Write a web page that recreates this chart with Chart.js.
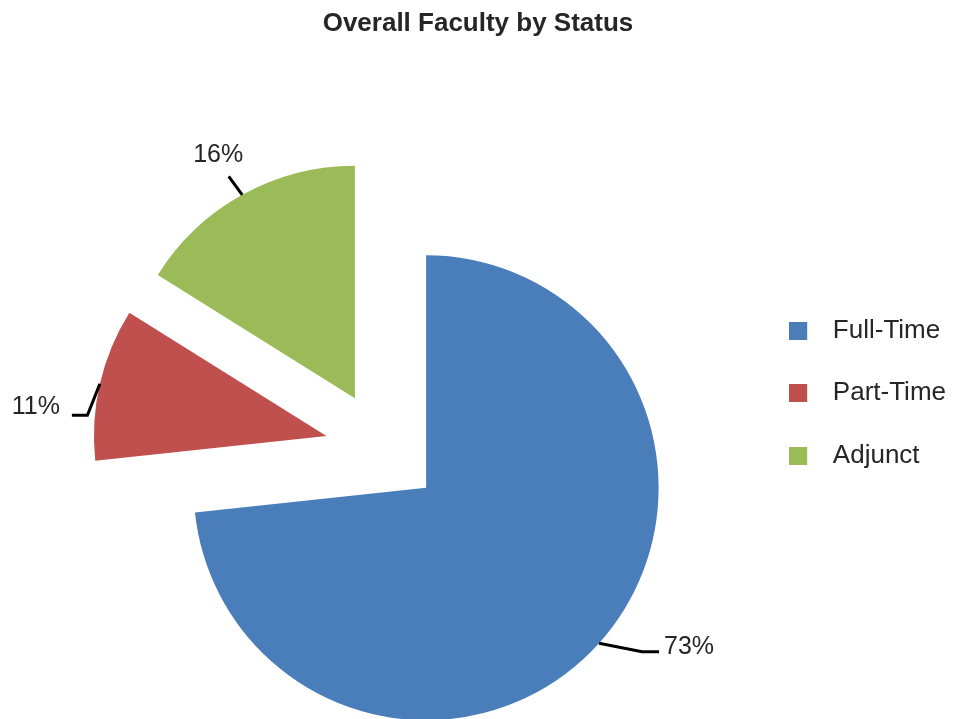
<!DOCTYPE html>
<html><head><meta charset="utf-8">
<script src="https://cdn.jsdelivr.net/npm/chart.js@4/dist/chart.umd.min.js"></script>
<style>html,body{margin:0;padding:0;background:#fff;}#wrap{width:956px;height:719px;}</style>
</head><body><div id="wrap"><canvas id="c" width="956" height="719"></canvas></div>
<script>
// ---- data ----
const categories = ['Full-Time', 'Part-Time', 'Adjunct'];
const shares = [73.3, 10.6, 16.1];
const sliceColors = ['#4A7EBB', '#C0504D', '#9BBB59'];
const chartTitle = 'Overall Faculty by Status';

// ---- style ----
const FONT = "'Liberation Sans', Arial, sans-serif";
const TEXT = '#262626';
const EXPLODE = 58;
const RADIUS = 232.5;
// leader line / label placement relative to each slice's outer mid point
const labelLayout = [
  {elbow: [43, 8.5], end: [60, 8.5], text: [65, 3.5], align: 'left'},
  {elbow: [-12.5, 31.5], end: [-28, 31.5], text: [-40, 23], align: 'right'},
  {elbow: [-13.5, -18.5], end: [-13.5, -18.5], text: [-24, -40], align: 'center'}
];

function squareStyle(color) {
  const c = document.createElement('canvas');
  c.width = 44; c.height = 18;
  const g = c.getContext('2d');
  g.fillStyle = color;
  g.fillRect(0, 0, 18, 18);
  return c;
}

const explodePlugin = {
  id: 'explode',
  beforeDatasetDraw(chart, args) {
    const ctx = chart.ctx;
    args.meta.data.forEach(arc => {
      const mid = (arc.startAngle + arc.endAngle) / 2;
      ctx.save();
      ctx.translate(Math.cos(mid) * EXPLODE, Math.sin(mid) * EXPLODE);
      arc.draw(ctx, chart.chartArea);
      ctx.restore();
    });
    return false;
  }
};

const labelPlugin = {
  id: 'sliceLabels',
  afterDatasetsDraw(chart) {
    const ctx = chart.ctx;
    const meta = chart.getDatasetMeta(0);
    const total = shares.reduce((a, b) => a + b, 0);
    meta.data.forEach((arc, i) => {
      const mid = (arc.startAngle + arc.endAngle) / 2;
      const r = arc.outerRadius + EXPLODE;
      const ax = arc.x + Math.cos(mid) * r;
      const ay = arc.y + Math.sin(mid) * r;
      const L = labelLayout[i];
      ctx.save();
      ctx.strokeStyle = '#000';
      ctx.lineWidth = 3;
      ctx.lineJoin = 'miter';
      ctx.beginPath();
      ctx.moveTo(ax, ay);
      ctx.lineTo(ax + L.elbow[0], ay + L.elbow[1]);
      ctx.lineTo(ax + L.end[0], ay + L.end[1]);
      ctx.stroke();
      ctx.fillStyle = TEXT;
      ctx.font = '25px ' + FONT;
      ctx.textAlign = L.align;
      ctx.textBaseline = 'middle';
      ctx.fillText(Math.round(shares[i] / total * 100) + '%', ax + L.text[0], ay + L.text[1]);
      ctx.restore();
    });
  }
};

new Chart(document.getElementById('c'), {
  type: 'pie',
  data: {
    labels: categories,
    datasets: [{
      data: shares,
      backgroundColor: sliceColors,
      borderWidth: 0,
      radius: RADIUS
    }]
  },
  options: {
    responsive: false,
    animation: false,
    devicePixelRatio: 1,
    radius: RADIUS,
    layout: {padding: {left: 0, right: 0, top: 0, bottom: 102.2}},
    plugins: {
      tooltip: {enabled: false},
      title: {
        display: true,
        text: chartTitle,
        color: TEXT,
        font: {family: FONT, size: 26, weight: 'bold'},
        padding: {top: 8.6, bottom: 241.4}
      },
      legend: {
        position: 'right',
        align: 'start',
        fullSize: false,
        labels: {
          usePointStyle: true,
          pointStyleWidth: 17.4,
          padding: 36.5,
          color: TEXT,
          font: {family: FONT, size: 26},
          generateLabels() {
            return categories.map((t, i) => ({
              text: t,
              fillStyle: sliceColors[i],
              strokeStyle: sliceColors[i],
              fontColor: TEXT,
              lineWidth: 0,
              pointStyle: squareStyle(sliceColors[i]),
              hidden: false,
              index: i,
              datasetIndex: 0
            }));
          }
        }
      }
    }
  },
  plugins: [explodePlugin, labelPlugin]
});
</script>
</body></html>
